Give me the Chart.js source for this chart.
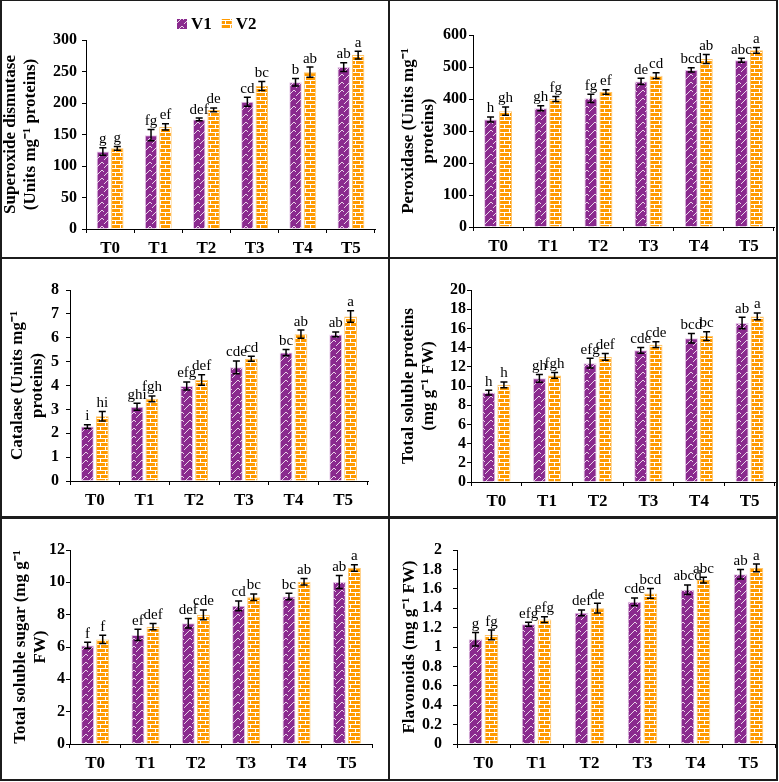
<!DOCTYPE html>
<html>
<head>
<meta charset="utf-8">
<script src="https://cdn.jsdelivr.net/npm/chart.js@4.4.1/dist/chart.umd.min.js"></script>
<style>
body { margin: 0; background: #fff; }
#wrap { position: relative; width: 779px; height: 782px; }
.panel { position: absolute; }
.line { position: absolute; background: #1c1c1c; }
</style>
</head>
<body>
<div id="wrap">
  <div class="panel" style="left:0;top:0;width:389px;height:258px"><canvas id="sodChart"></canvas></div>
  <div class="panel" style="left:389px;top:0;width:390px;height:258px"><canvas id="podChart"></canvas></div>
  <div class="panel" style="left:0;top:258px;width:389px;height:258px"><canvas id="catChart"></canvas></div>
  <div class="panel" style="left:389px;top:258px;width:390px;height:258px"><canvas id="tspChart"></canvas></div>
  <div class="panel" style="left:0;top:516px;width:389px;height:266px"><canvas id="tssChart"></canvas></div>
  <div class="panel" style="left:389px;top:516px;width:390px;height:266px"><canvas id="flavChart"></canvas></div>

  <!-- panel frame lines -->
  <div class="line" style="left:0;top:0;width:778px;height:1px"></div>
  <div class="line" style="left:0;top:779px;width:778px;height:2px"></div>
  <div class="line" style="left:0;top:0;width:2px;height:781px"></div>
  <div class="line" style="left:776px;top:0;width:2px;height:781px"></div>
  <div class="line" style="left:388px;top:0;width:2px;height:781px"></div>
  <div class="line" style="left:0;top:257px;width:778px;height:2px"></div>
  <div class="line" style="left:0;top:516px;width:778px;height:3px"></div>
</div>

<script>
// Data
const treatments = ['T0', 'T1', 'T2', 'T3', 'T4', 'T5'];
const varieties = ['V1', 'V2'];

const sodV1 = [123, 149, 174, 202, 233, 257];
const sodV2 = [128, 162, 189, 227, 249, 276];
const sodErrV1 = [6, 9, 2, 7, 6, 7];
const sodErrV2 = [3, 5, 3, 7, 8, 6];
const sodLetV1 = ['g', 'fg', 'def', 'cd', 'b', 'ab'];
const sodLetV2 = ['g', 'ef', 'de', 'bc', 'ab', 'a'];

const podV1 = [336, 371, 402, 455, 491, 521];
const podV2 = [362, 400, 422, 473, 525, 552];
const podErrV1 = [8, 8, 13, 10, 7, 6];
const podErrV2 = [13, 8, 7, 9, 14, 9];
const podLetV1 = ['h', 'gh', 'fg', 'de', 'bcd', 'abc'];
const podLetV2 = ['gh', 'fg', 'ef', 'cd', 'ab', 'a'];

const catV1 = [2.28, 3.11, 3.98, 4.76, 5.38, 6.14];
const catV2 = [2.71, 3.44, 4.23, 5.12, 6.15, 6.89];
const catErrV1 = [0.08, 0.15, 0.17, 0.27, 0.13, 0.1];
const catErrV2 = [0.2, 0.12, 0.22, 0.1, 0.17, 0.24];
const catLetV1 = ['i', 'ghi', 'efg', 'cde', 'bc', 'ab'];
const catLetV2 = ['hi', 'fgh', 'def', 'cd', 'ab', 'a'];

const tspV1 = [9.32, 10.8, 12.38, 13.72, 14.98, 16.57];
const tspV2 = [10.12, 11.1, 13.03, 14.3, 15.2, 17.25];
const tspErrV1 = [0.25, 0.4, 0.5, 0.3, 0.5, 0.6];
const tspErrV2 = [0.3, 0.3, 0.35, 0.3, 0.45, 0.35];
const tspLetV1 = ['h', 'gh', 'efg', 'cde', 'bcd', 'ab'];
const tspLetV2 = ['h', 'fgh', 'def', 'cde', 'bc', 'a'];

const tssV1 = [6.1, 6.75, 7.47, 8.55, 9.12, 10.02];
const tssV2 = [6.47, 7.26, 7.99, 9.08, 10.04, 10.88];
const tssErrV1 = [0.2, 0.35, 0.3, 0.3, 0.2, 0.4];
const tssErrV2 = [0.25, 0.2, 0.3, 0.2, 0.2, 0.2];
const tssLetV1 = ['f', 'ef', 'def', 'cd', 'bc', 'ab'];
const tssLetV2 = ['f', 'def', 'cde', 'bc', 'ab', 'a'];

const flavV1 = [1.08, 1.235, 1.352, 1.466, 1.59, 1.75];
const flavV2 = [1.124, 1.283, 1.40, 1.552, 1.69, 1.815];
const flavErrV1 = [0.07, 0.02, 0.03, 0.04, 0.05, 0.05];
const flavErrV2 = [0.05, 0.03, 0.05, 0.05, 0.03, 0.04];
const flavLetV1 = ['g', 'efg', 'def', 'cde', 'abcd', 'ab'];
const flavLetV2 = ['fg', 'efg', 'de', 'bcd', 'abc', 'a'];

const FONT = "'Liberation Serif', 'Times New Roman', serif";
const PURPLE = '#8a2a8e';
const ORANGE = '#ff9a00';

// Fill patterns: white zigzag on purple, white bricks on orange
function zigzagPattern() {
    const c = document.createElement('canvas');
    c.width = 8; c.height = 8;
    const g = c.getContext('2d');
    g.fillStyle = PURPLE;
    g.fillRect(0, 0, 8, 8);
    g.strokeStyle = 'rgba(255,255,255,0.8)';
    g.lineWidth = 1;
    g.beginPath();
    g.moveTo(0, 8); g.lineTo(6, 2); g.lineTo(8, 4);
    g.moveTo(-2, 2); g.lineTo(0, 4);
    g.stroke();
    return g.createPattern(c, 'repeat');
}

function brickPattern() {
    const c = document.createElement('canvas');
    c.width = 10; c.height = 8;
    const g = c.getContext('2d');
    g.fillStyle = ORANGE;
    g.fillRect(0, 0, 10, 8);
    g.fillStyle = '#ffffff';
    g.fillRect(0, 0, 10, 1);
    g.fillRect(0, 4, 10, 1);
    g.fillRect(0, 0, 1, 4);
    g.fillRect(5, 4, 1, 4);
    return g.createPattern(c, 'repeat');
}

const v1Fill = zigzagPattern();
const v2Fill = brickPattern();

// Error bars + significance letters
const errorBars = {
    id: 'errorBars',
    afterDatasetsDraw(chart) {
        const ctx = chart.ctx;
        const y = chart.scales.y;
        chart.data.datasets.forEach((ds, di) => {
            chart.getDatasetMeta(di).data.forEach((bar, i) => {
                const v = ds.data[i], e = ds.errors[i];
                const top = y.getPixelForValue(v + e);
                const bot = y.getPixelForValue(v - e);
                ctx.save();
                ctx.strokeStyle = '#000';
                ctx.lineWidth = 1.5;
                ctx.beginPath();
                ctx.moveTo(bar.x, top); ctx.lineTo(bar.x, bot);
                ctx.moveTo(bar.x - 3.5, top); ctx.lineTo(bar.x + 3.5, top);
                ctx.moveTo(bar.x - 3.5, bot); ctx.lineTo(bar.x + 3.5, bot);
                ctx.stroke();
                ctx.fillStyle = '#000';
                ctx.font = '15px ' + FONT;
                ctx.textAlign = 'center';
                ctx.textBaseline = 'bottom';
                ctx.fillText(ds.letters[i], bar.x, top - 1);
                ctx.restore();
            });
        });
    }
};

// Small legend drawn on top of the first panel only
const patLegend = {
    id: 'patLegend',
    afterDraw(chart, args, opts) {
        if (!opts.show) return;
        const ctx = chart.ctx;
        ctx.save();
        ctx.font = 'bold 17px ' + FONT;
        ctx.textBaseline = 'middle';
        let x = opts.x;
        chart.data.datasets.forEach(ds => {
            ctx.fillStyle = ds.backgroundColor;
            ctx.fillRect(x, opts.y - 5, 10, 10);
            ctx.fillStyle = '#000';
            ctx.fillText(ds.label, x + 14, opts.y + 1);
            x += 14 + ctx.measureText(ds.label).width + 10;
        });
        ctx.restore();
    }
};

function buildPanel(id, p) {
    new Chart(document.getElementById(id), {
        type: 'bar',
        data: {
            labels: treatments,
            datasets: [{
                label: varieties[0],
                data: p.v1, errors: p.e1, letters: p.l1,
                backgroundColor: v1Fill,
                borderColor: '#e6c6e8',
                borderWidth: 1
            }, {
                label: varieties[1],
                data: p.v2, errors: p.e2, letters: p.l2,
                backgroundColor: v2Fill,
                borderColor: '#ffc56a',
                borderWidth: 1
            }]
        },
        options: {
            responsive: true,
            maintainAspectRatio: false,
            animation: false,
            categoryPercentage: 0.6,
            barPercentage: 0.86,
            layout: { padding: { left: 0, right: p.w - p.right, top: p.top, bottom: 0 } },
            plugins: {
                legend: { display: false },
                tooltip: { enabled: false },
                patLegend: { show: !!p.legend, x: 177, y: 24 }
            },
            scales: {
                x: {
                    afterFit: s => { s.height = p.h - p.bottom; },
                    grid: { drawOnChartArea: false, tickLength: 4, color: '#000' },
                    border: { color: '#000', width: 1 },
                    ticks: { color: '#000', padding: 5, font: { family: FONT, size: 17, weight: 'bold' } }
                },
                y: {
                    min: 0, max: p.max,
                    afterFit: s => { s.width = p.left; },
                    grid: { drawOnChartArea: false, tickLength: 4, color: '#000' },
                    border: { color: '#000', width: 1 },
                    ticks: {
                        stepSize: p.step,
                        autoSkip: false,
                        color: '#000',
                        padding: p.tickPad,
                        font: { family: FONT, size: 16, weight: 'bold' },
                        callback: v => String(Number(v.toFixed(2)))
                    },
                    title: {
                        display: true,
                        text: p.title,
                        color: '#000',
                        padding: { top: p.titlePad, bottom: 0 },
                        font: { family: FONT, size: 17, weight: 'bold', lineHeight: 1.2 }
                    }
                }
            }
        },
        plugins: [errorBars, patLegend]
    });
}

buildPanel('sodChart', {
    v1: sodV1, v2: sodV2, e1: sodErrV1, e2: sodErrV2, l1: sodLetV1, l2: sodLetV2,
    max: 300, step: 50, title: ['Superoxide dismutase', '(Units mg⁻¹ proteins)'],
    w: 389, h: 258, left: 86, right: 375, top: 40, bottom: 229, tickPad: 5, titlePad: 0, legend: true
});
buildPanel('podChart', {
    v1: podV1, v2: podV2, e1: podErrV1, e2: podErrV2, l1: podLetV1, l2: podLetV2,
    max: 600, step: 100, title: ['Peroxidase (Units mg⁻¹', 'proteins)'],
    w: 390, h: 258, left: 84, right: 385, top: 35, bottom: 227, tickPad: 2, titlePad: 9
});
buildPanel('catChart', {
    v1: catV1, v2: catV2, e1: catErrV1, e2: catErrV2, l1: catLetV1, l2: catLetV2,
    max: 8, step: 1, title: ['Catalase (Units mg⁻¹', 'proteins)'],
    w: 389, h: 258, left: 70, right: 368, top: 32, bottom: 223, tickPad: 7, titlePad: 7
});
buildPanel('tspChart', {
    v1: tspV1, v2: tspV2, e1: tspErrV1, e2: tspErrV2, l1: tspLetV1, l2: tspLetV2,
    max: 20, step: 2, title: ['Total soluble proteins', '(mg g⁻¹ FW)'],
    w: 390, h: 258, left: 82, right: 386, top: 32, bottom: 224, tickPad: 1, titlePad: 9
});
buildPanel('tssChart', {
    v1: tssV1, v2: tssV2, e1: tssErrV1, e2: tssErrV2, l1: tssLetV1, l2: tssLetV2,
    max: 12, step: 2, title: ['Total soluble sugar (mg g⁻¹', 'FW)'],
    w: 389, h: 266, left: 70, right: 372, top: 34, bottom: 228, tickPad: 1, titlePad: 10
});
buildPanel('flavChart', {
    v1: flavV1, v2: flavV2, e1: flavErrV1, e2: flavErrV2, l1: flavLetV1, l2: flavLetV2,
    max: 2, step: 0.2, title: 'Flavonoids (mg g⁻¹ FW)',
    w: 390, h: 266, left: 68, right: 386, top: 34, bottom: 228, tickPad: 11, titlePad: 10
});
</script>
</body>
</html>
